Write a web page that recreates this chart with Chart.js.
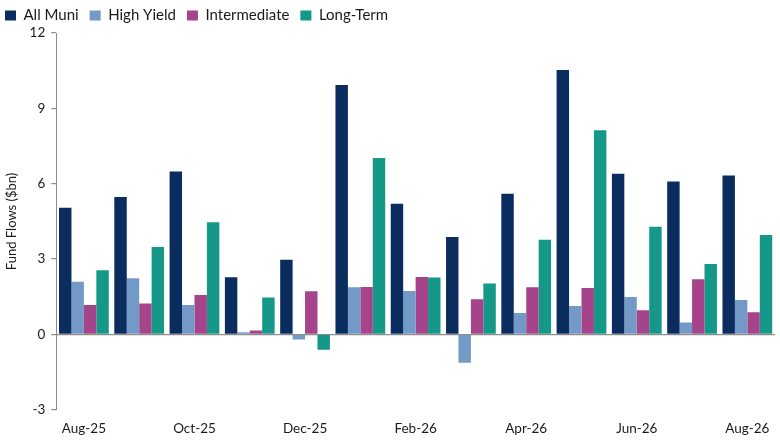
<!DOCTYPE html>
<html>
<head>
<meta charset="utf-8">
<script src="https://cdn.jsdelivr.net/npm/chart.js@4/dist/chart.umd.min.js"></script>
<style>
html,body{margin:0;padding:0;background:#fff;}
#wrap{width:780px;height:440px;}
</style>
</head>
<body>
<div id="wrap"><canvas id="c"></canvas></div>
<script>
const categories = ["Aug-25","Sep-25","Oct-25","Nov-25","Dec-25","Jan-26","Feb-26","Mar-26","Apr-26","May-26","Jun-26","Jul-26","Aug-26"];
const allMuni      = [5.04, 5.47, 6.49, 2.28, 2.97, 9.93, 5.20, 3.88, 5.60, 10.53, 6.40, 6.09, 6.33];
const highYield    = [2.10, 2.24, 1.17, 0.09, -0.20, 1.88, 1.73, -1.13, 0.85, 1.13, 1.49, 0.48, 1.37];
const intermediate = [1.17, 1.23, 1.57, 0.16, 1.72, 1.89, 2.29, 1.40, 1.88, 1.85, 0.96, 2.20, 0.88];
const longTerm     = [2.56, 3.48, 4.47, 1.47, -0.61, 7.02, 2.27, 2.03, 3.77, 8.13, 4.29, 2.80, 3.96];
const yTicks = [-3, 0, 3, 6, 9, 12];

const FONT = "Lato, 'Noto Sans', sans-serif";
const TXT = "#1a1a1a";
const mk = (label, data, color) => ({
  label, data, backgroundColor: color,
  borderWidth: 0,
  barPercentage: 1.0, categoryPercentage: 0.9
});

const legendShift = {
  id: "legendShift",
  afterLayout(chart) {
    if (chart.legend) { chart.legend.left -= 10; chart.legend.right -= 10; }
  }
};

new Chart(document.getElementById("c"), {
  type: "bar",
  data: {
    labels: categories,
    datasets: [
      mk("All Muni", allMuni, "#0b2c5f"),
      mk("High Yield", highYield, "#7399c6"),
      mk("Intermediate", intermediate, "#a5448a"),
      mk("Long-Term", longTerm, "#159887")
    ]
  },
  plugins: [legendShift],
  options: {
    responsive: true,
    maintainAspectRatio: false,
    animation: false,
    layout: { padding: { left: 4, right: 5, top: -3, bottom: 0 } },
    plugins: {
      legend: {
        position: "top",
        align: "start",
        labels: {
          boxWidth: 11, boxHeight: 10, padding: 11,
          color: TXT, font: { family: FONT, size: 15 }
        }
      },
      tooltip: { enabled: false }
    },
    scales: {
      x: {
        grid: { display: false },
        border: { display: false },
        ticks: {
          autoSkip: false, maxRotation: 0, color: TXT,
          font: { family: FONT, size: 13.5 },
          callback: function(v, i) { return i % 2 === 0 ? categories[i] : ""; }
        }
      },
      y: {
        min: -3, max: 12,
        afterBuildTicks: (axis) => { axis.ticks = yTicks.map(v => ({ value: v })); },
        grid: {
          drawOnChartArea: true,
          color: (ctx) => (ctx.tick && ctx.tick.value === 0) ? "#8c8c8c" : "rgba(0,0,0,0)",
          lineWidth: 1.2,
          tickColor: "#8c8c8c",
          tickLength: 5
        },
        border: { display: true, color: "#8c8c8c", width: 1 },
        ticks: { color: TXT, font: { family: FONT, size: 13.5 }, padding: 6 },
        title: {
          display: true, text: "Fund Flows ($bn)", color: TXT,
          font: { family: FONT, size: 13 }, padding: { top: 0, bottom: 4 }
        }
      }
    }
  }
});
</script>
</body>
</html>
